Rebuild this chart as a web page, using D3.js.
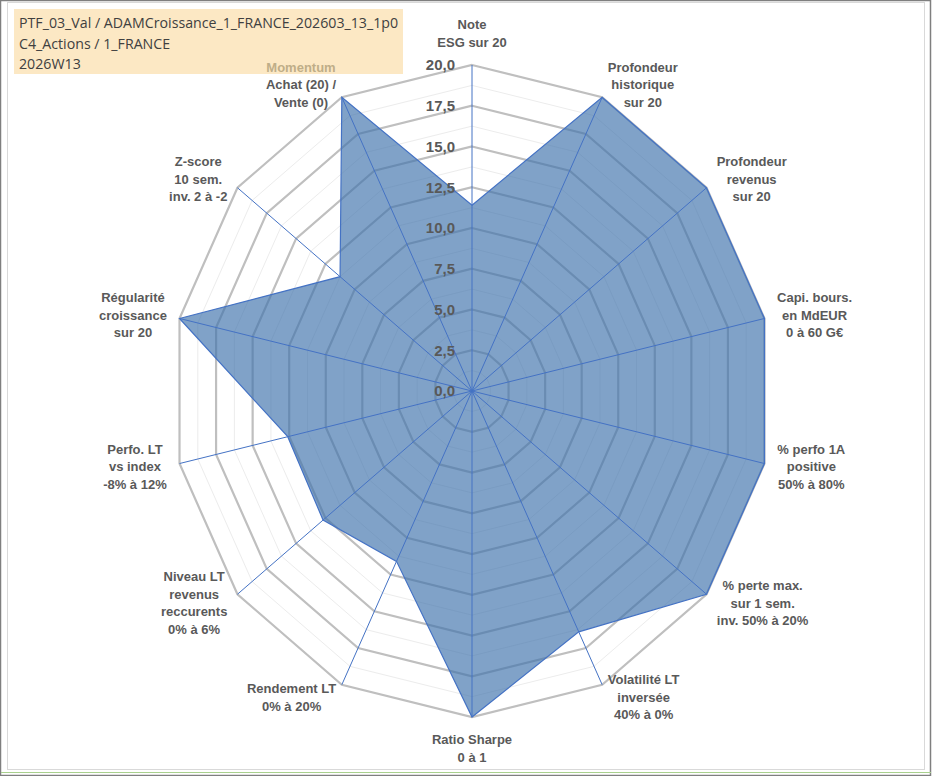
<!DOCTYPE html>
<html>
<head>
<meta charset="utf-8">
<script src="https://cdn.jsdelivr.net/npm/d3@7"></script>
<style>
    body { margin: 0; background: #fff; }
    .title { font-family: "Open Sans", sans-serif; font-size: 14.2px; fill: #404040; }
    .axis-label { font-family: "Liberation Sans", Arial, sans-serif; font-size: 13px; font-weight: bold; fill: #595959; }
    .tick-label { font-family: "Liberation Sans", Arial, sans-serif; font-size: 15px; font-weight: bold; fill: #595959; }
    .ring-major { fill: none; stroke: #bfbfbf; stroke-width: 2.2; }
    .ring-minor { fill: none; stroke: #ececec; stroke-width: 1; }
    .spoke { stroke: #4472c4; stroke-width: 1; }
    .area { fill: #3e72ab; fill-opacity: 0.66; stroke: #4472c4; stroke-width: 1.2; }
</style>
</head>
<body>
<svg class="radar" width="932" height="776"></svg>
<script>
// Axis labels (clockwise from top)
const axisLabels = [
    ["Note", "ESG sur 20"],
    ["Profondeur", "historique", "sur 20"],
    ["Profondeur", "revenus", "sur 20"],
    ["Capi. bours.", "en MdEUR", "0 à 60 G€"],
    ["% perfo 1A", "positive", "50% à 80%"],
    ["% perte max.", "sur 1 sem.", "inv. 50% à 20%"],
    ["Volatilité LT", "inversée", "40% à 0%"],
    ["Ratio Sharpe", "0 à 1"],
    ["Rendement LT", "0% à 20%"],
    ["Niveau LT", "revenus", "reccurents", "0% à 6%"],
    ["Perfo. LT", "vs index", "-8% à 12%"],
    ["Régularité", "croissance", "sur 20"],
    ["Z-score", "10 sem.", "inv. 2 à -2"],
    ["Momentum", "Achat (20) /", "Vente (0)"]
];

// Series values
const values = [11.4, 20, 20, 20, 20, 20, 16.4, 20, 11.6, 12.7, 12.6, 20, 11.25, 20];

// Rings
const majorTicks = [0, 2.5, 5, 7.5, 10, 12.5, 15, 17.5, 20];
const minorTicks = [1.25, 3.75, 6.25, 8.75, 11.25, 13.75, 16.25, 18.75];

const titleLines = [
    "PTF_03_Val / ADAMCroissance_1_FRANCE_202603_13_1p0",
    "C4_Actions / 1_FRANCE",
    "2026W13"
];

const svg = d3.select(".radar");
const cx = 472, cy = 391;
const n = axisLabels.length;

// chart is slightly wider than tall stretched -> two radial scales
const rx = d3.scaleLinear().domain([0, 20]).range([0, 300]);
const ry = d3.scaleLinear().domain([0, 20]).range([0, 326]);
const angle = d3.scaleLinear().domain([0, n]).range([0, 2 * Math.PI]);

const px = (i, v) => cx + Math.sin(angle(i)) * rx(v);
const py = (i, v) => cy - Math.cos(angle(i)) * ry(v);
const ringPoints = v => d3.range(n).map(i => [px(i, v), py(i, v)].join(",")).join(" ");

// frame
svg.append("rect").attr("x", 0.5).attr("y", 0.5).attr("width", 930).attr("height", 775)
    .attr("fill", "#fff").attr("stroke", "#7f7f7f").attr("stroke-width", 1.5);
svg.append("rect").attr("x", 7.5).attr("y", 2.5).attr("width", 917).attr("height", 767)
    .attr("fill", "none").attr("stroke", "#d9d9d9");
svg.append("line").attr("x1", 1).attr("x2", 931).attr("y1", 772.5).attr("y2", 772.5)
    .attr("stroke", "#a9d18e");

// title box
svg.append("rect").attr("x", 14).attr("y", 9).attr("width", 389).attr("height", 65)
    .attr("fill", "#fce8c4");
svg.selectAll(".title")
    .data(titleLines)
    .enter().append("text")
    .attr("class", "title")
    .attr("x", 19)
    .attr("y", (d, i) => 28 + i * 20.7)
    .text(d => d);

// grid
svg.selectAll(".ring-minor")
    .data(minorTicks)
    .enter().append("polygon")
    .attr("class", "ring-minor")
    .attr("points", d => ringPoints(d));

svg.selectAll(".ring-major")
    .data(majorTicks.filter(d => d > 0))
    .enter().append("polygon")
    .attr("class", "ring-major")
    .attr("points", d => ringPoints(d));

// series area
svg.append("polygon")
    .attr("class", "area")
    .attr("points", values.map((v, i) => [px(i, v), py(i, v)].join(",")).join(" "));

// spokes
svg.selectAll(".spoke")
    .data(d3.range(n))
    .enter().append("line")
    .attr("class", "spoke")
    .attr("x1", cx).attr("y1", cy)
    .attr("x2", i => px(i, 20))
    .attr("y2", i => py(i, 20));

// tick labels
const fmt = d3.formatLocale({ decimal: ",", thousands: " ", grouping: [3], currency: ["", "€"] }).format(".1f");
svg.selectAll(".tick-label")
    .data(majorTicks)
    .enter().append("text")
    .attr("class", "tick-label")
    .attr("x", cx - 17)
    .attr("y", d => cy - ry(d))
    .attr("dy", "0.35em")
    .attr("text-anchor", "end")
    .text(d => fmt(d));

// axis labels
const lineH = 17.5;
const labelR = 20.86;
axisLabels.forEach((lines, i) => {
    const g = svg.append("g");
    g.selectAll("text")
        .data(lines)
        .enter().append("text")
        .attr("class", "axis-label")
        .attr("x", 0)
        .attr("y", (d, j) => j * lineH)
        .attr("dy", "0.35em")
        .attr("text-anchor", "middle")
        .style("fill", (d, j) => (i === 13 && j === 0) ? "#bfae88" : null)
        .text(d => d);

    const w = g.node().getBBox().width;
    const h = lines.length * lineH;
    const s = Math.sin(angle(i)), c = Math.cos(angle(i));
    const lx = px(i, labelR), ly = py(i, labelR);
    let tx = lx, ty;
    if (s > 0.01) tx = lx + w / 2;
    else if (s < -0.01) tx = lx - w / 2;
    if (Math.abs(s) <= 0.01) {
        ty = c > 0 ? ly - h + lineH / 2 : ly + lineH / 2;
    } else {
        ty = ly - (lines.length - 1) * lineH / 2;
    }
    g.attr("transform", `translate(${tx},${ty})`);
});
</script>
</body>
</html>
